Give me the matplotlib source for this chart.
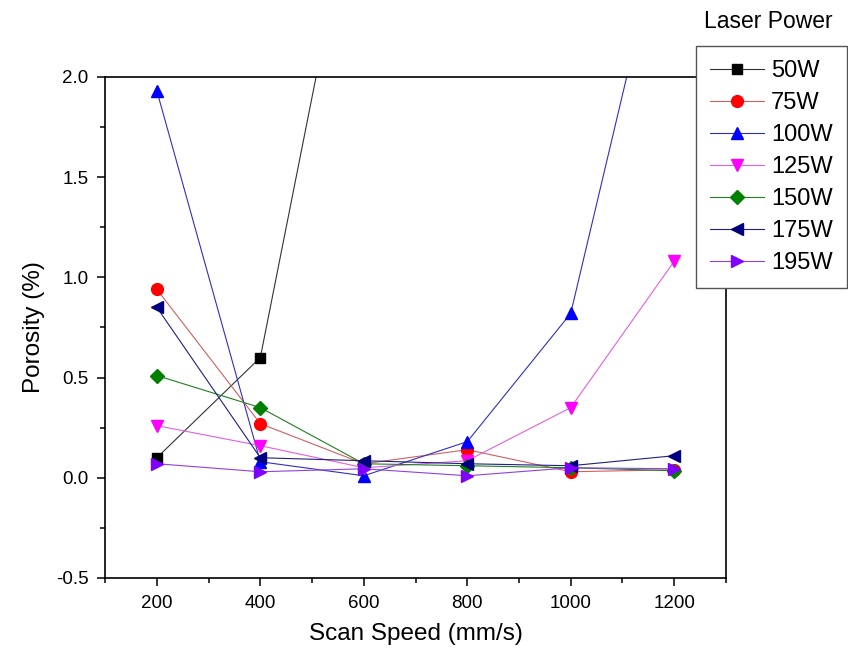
import numpy as np
import matplotlib
matplotlib.use("Agg")
import matplotlib.pyplot as plt
from matplotlib.ticker import MultipleLocator

# Velocidad de escaneo (mm/s)
velocidad = [200, 400, 600, 800, 1000, 1200]

# Porosidad (%) para cada potencia; los valores fuera de escala se leen por la pendiente
p50 = [0.10, 0.60, 3.20, np.nan, np.nan, np.nan]
p75 = [0.94, 0.27, 0.07, 0.14, 0.03, 0.04]
p100 = [1.93, 0.08, 0.01, 0.18, 0.82, 3.00]
p125 = [0.26, 0.16, 0.05, 0.085, 0.35, 1.08]
p150 = [0.51, 0.35, 0.07, 0.06, 0.05, 0.035]
p175 = [0.85, 0.10, 0.085, 0.07, 0.06, 0.11]
p195 = [0.07, 0.03, 0.045, 0.01, 0.05, 0.045]

etiquetas = ["50W", "75W", "100W", "125W", "150W", "175W", "195W"]

plt.rcParams['font.family'] = ['Liberation Sans', 'DejaVu Sans']

fig = plt.figure(figsize=(8.48, 6.61), dpi=100)
ax = fig.add_axes([0.124, 0.1256, 0.732, 0.758])

series = [p50, p75, p100, p125, p150, p175, p195]
colores = ['black', '#ff0000', '#0000ff', '#ff00ff', '#008000', '#000080', '#8000ff']
lineas = ['#333333', '#d06060', '#3030c0', '#e060e0', '#208020', '#202080', '#9040e0']
marcadores = ['s', 'o', '^', 'v', 'D', '<', '>']
tamanos = [7.5, 8.5, 8.5, 8.5, 7.5, 8.5, 8.5]

for datos, c, lc, m, ms, lab in zip(series, colores, lineas, marcadores, tamanos, etiquetas):
    ax.plot(velocidad, datos, color=lc, linewidth=0.8, marker=m, markersize=ms,
            markerfacecolor=c, markeredgecolor=c, label=lab)

ax.set_xlim(100, 1300)
ax.set_ylim(-0.5, 2.0)
ax.xaxis.set_major_locator(MultipleLocator(200))
ax.xaxis.set_minor_locator(MultipleLocator(100))
ax.yaxis.set_major_locator(MultipleLocator(0.5))
ax.yaxis.set_minor_locator(MultipleLocator(0.25))
ax.set_xticks([200, 400, 600, 800, 1000, 1200])
ax.set_yticks([-0.5, 0.0, 0.5, 1.0, 1.5, 2.0])
ax.set_yticklabels(["-0.5", "0.0", "0.5", "1.0", "1.5", "2.0"])

ax.tick_params(which='major', direction='out', length=6, width=1.1, labelsize=13.5, pad=6)
ax.tick_params(which='minor', direction='out', length=3.5, width=1.1)
for lado in ax.spines.values():
    lado.set_linewidth(1.2)

ax.set_xlabel("Scan Speed (mm/s)", fontsize=17.5, labelpad=8)
ax.set_ylabel("Porosity (%)", fontsize=17.5, labelpad=8)

leg = ax.legend(loc='upper right', bbox_to_anchor=(0.999, 0.930), bbox_transform=fig.transFigure,
                fontsize=17, frameon=True, fancybox=False, framealpha=1,
                handlelength=2.3, handletextpad=0.3, labelspacing=0.42, borderpad=0.6,
                borderaxespad=0)
leg.get_frame().set_edgecolor('#555555')
leg.get_frame().set_linewidth(1.0)

fig.text(0.906, 0.968, "Laser Power", fontsize=16.5, ha='center', va='center')

fig.savefig('out.png', dpi=100)
